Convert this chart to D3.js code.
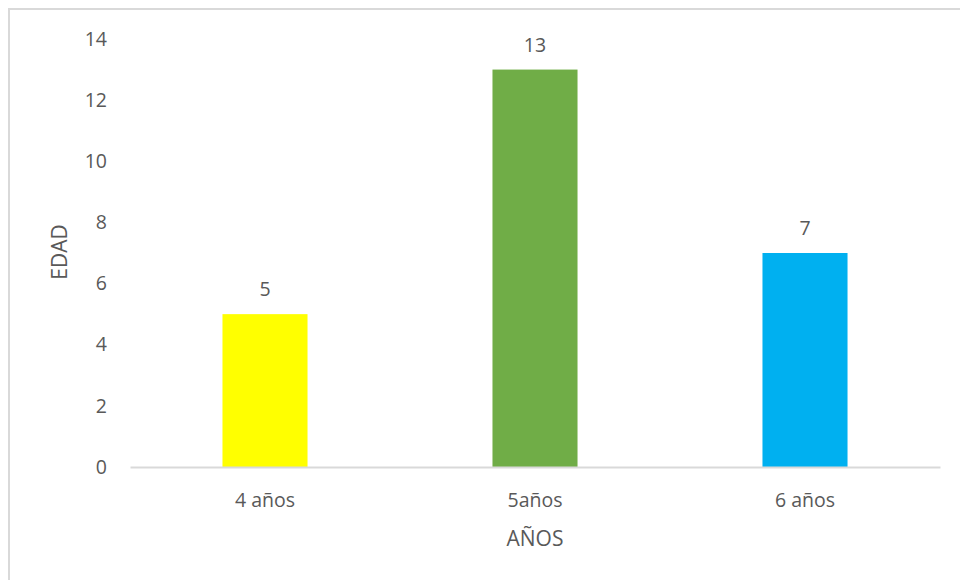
<!DOCTYPE html>
<html>
<head>
<meta charset="utf-8">
<script src="https://cdn.jsdelivr.net/npm/d3@7"></script>
<style>
  html, body { margin: 0; padding: 0; background: #fff; }
  svg { display: block; }
  text { font-family: "Open Sans", "Noto Sans", sans-serif; fill: #595959; }
</style>
</head>
<body>
<svg id="chart" width="960" height="580"></svg>
<script>
// Chart data
const categories = ["4 años", "5años", "6 años"];
const values = [5, 13, 7];
const barColors = ["#FFFF00", "#70AD47", "#00B0F0"];
const yTicks = [0, 2, 4, 6, 8, 10, 12, 14];
const xTitle = "AÑOS";
const yTitle = "EDAD";

const svg = d3.select("#chart");
const plot = { left: 130, right: 940, top: 39, bottom: 467 };
const fontStack = '"Open Sans", "Noto Sans", sans-serif';

// Outer frame
svg.append("rect")
  .attr("x", 9).attr("y", 9)
  .attr("width", 1000).attr("height", 1000)
  .attr("fill", "none")
  .attr("stroke", "#d9d9d9")
  .attr("stroke-width", 2);

const x = d3.scaleBand()
  .domain(categories)
  .range([plot.left, plot.right])
  .paddingInner(0.685)
  .paddingOuter(0.3425);

const y = d3.scaleLinear()
  .domain([0, 14])
  .range([plot.bottom, plot.top]);

// Y axis labels (no line, no ticks)
const yAxis = d3.axisLeft(y).tickValues(yTicks).tickSize(0).tickPadding(0);
const yG = svg.append("g")
  .attr("transform", `translate(107,0)`)
  .call(yAxis);
yG.select(".domain").remove();
yG.selectAll("text")
  .attr("font-size", 19.5)
  .style("font-family", fontStack)
  .attr("fill", "#595959");

// Bars
svg.append("g").selectAll("rect")
  .data(values)
  .join("rect")
  .attr("x", (d, i) => x(categories[i]))
  .attr("y", d => y(d))
  .attr("width", x.bandwidth())
  .attr("height", d => y(0) - y(d))
  .attr("fill", (d, i) => barColors[i]);

// Category axis
const xAxis = d3.axisBottom(x).tickSize(0).tickPadding(0);
const xG = svg.append("g")
  .attr("transform", `translate(0,${plot.bottom})`)
  .call(xAxis);
xG.select(".domain")
  .attr("stroke", "#d9d9d9")
  .attr("stroke-width", 2);
xG.selectAll("text")
  .attr("font-size", 19.5)
  .attr("dy", 0)
  .attr("y", 40)
  .style("font-family", fontStack)
  .attr("fill", "#595959");

// Value labels
svg.append("g").selectAll("text")
  .data(values)
  .join("text")
  .attr("x", (d, i) => x(categories[i]) + x.bandwidth() / 2)
  .attr("y", d => y(d) - 18)
  .attr("text-anchor", "middle")
  .attr("font-size", 19.5)
  .text(d => d);

// Axis titles
svg.append("text")
  .attr("x", (plot.left + plot.right) / 2)
  .attr("y", 546)
  .attr("text-anchor", "middle")
  .attr("font-size", 21)
  .text(xTitle);

svg.append("text")
  .attr("transform", "translate(67,252) rotate(-90)")
  .attr("text-anchor", "middle")
  .attr("font-size", 21)
  .text(yTitle);
</script>
</body>
</html>
